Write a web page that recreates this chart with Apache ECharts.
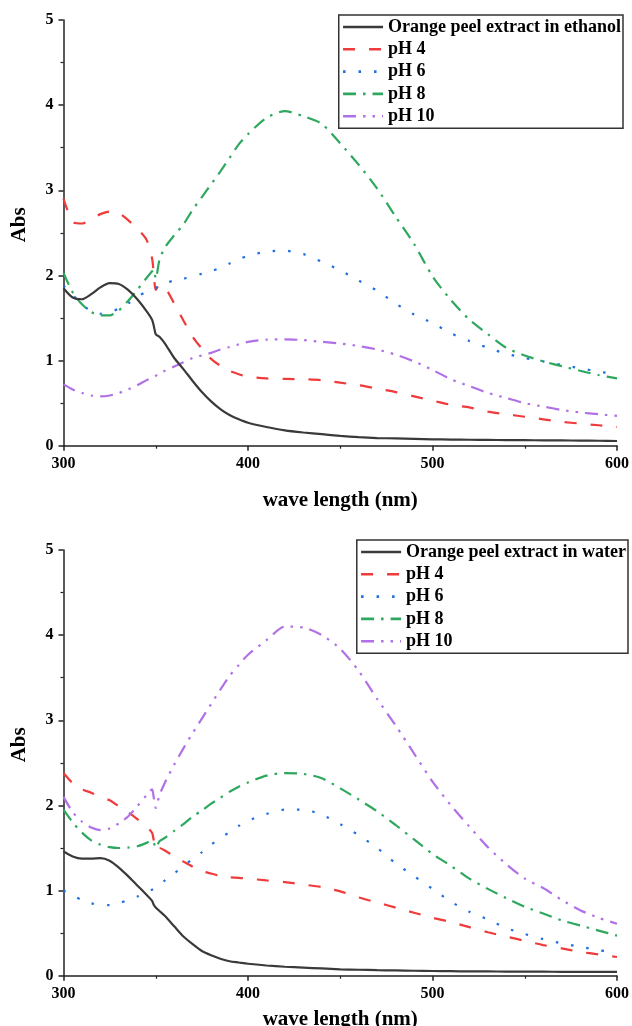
<!DOCTYPE html>
<html>
<head>
<meta charset="utf-8">
<script src="https://cdn.jsdelivr.net/npm/echarts@6/dist/echarts.min.js"></script>
<style>
html,body{margin:0;padding:0;background:#fff;}
#chart{width:632px;height:1026px;}
</style>
</head>
<body>
<div id="chart"></div>
<script>
// wavelengths (nm)
const wl = [300,305,310,315,320,325,330,335,340,345,348,349,350,352,355,360,365,370,375,380,385,390,395,400,410,420,430,440,450,460,470,480,490,500,510,520,530,540,550,560,570,580,590,600];

// Top panel: ethanol
const ethBlack = [1.85,1.74,1.72,1.78,1.86,1.91,1.90,1.83,1.72,1.58,1.48,1.40,1.31,1.28,1.20,1.03,0.90,0.76,0.63,0.52,0.43,0.36,0.31,0.27,0.22,0.18,0.155,0.135,0.115,0.10,0.09,0.085,0.08,0.075,0.072,0.07,0.068,0.066,0.065,0.063,0.062,0.06,0.058,0.055];
const ethPH4 = [2.90,2.63,2.61,2.66,2.72,2.75,2.73,2.65,2.55,2.42,2.20,2.00,1.83,1.89,1.86,1.67,1.47,1.28,1.14,1.02,0.94,0.88,0.84,0.81,0.79,0.785,0.78,0.77,0.74,0.71,0.67,0.63,0.58,0.53,0.48,0.45,0.40,0.37,0.34,0.31,0.28,0.26,0.24,0.22];
const ethPH6 = [1.88,1.77,1.66,1.58,1.55,1.57,1.61,1.67,1.75,1.81,1.83,1.84,1.85,1.88,1.91,1.94,1.96,1.99,2.02,2.05,2.09,2.14,2.19,2.23,2.28,2.29,2.25,2.16,2.06,1.94,1.82,1.67,1.54,1.44,1.32,1.23,1.15,1.08,1.03,0.99,0.95,0.91,0.87,0.84];
const ethPH8 = [2.03,1.80,1.66,1.57,1.53,1.53,1.59,1.70,1.83,1.97,2.05,2.07,1.96,2.18,2.33,2.47,2.60,2.77,2.92,3.07,3.22,3.38,3.54,3.66,3.85,3.93,3.87,3.78,3.55,3.30,3.02,2.69,2.37,1.99,1.71,1.48,1.31,1.15,1.06,0.99,0.935,0.88,0.83,0.79];
const ethPH10 = [0.72,0.66,0.62,0.59,0.58,0.59,0.62,0.66,0.71,0.77,0.80,0.81,0.82,0.85,0.88,0.93,0.98,1.03,1.06,1.09,1.13,1.16,1.19,1.22,1.245,1.25,1.24,1.22,1.20,1.17,1.13,1.07,0.99,0.89,0.78,0.70,0.62,0.56,0.50,0.46,0.42,0.39,0.37,0.35];

// Bottom panel: water
const watBlack = [1.46,1.40,1.375,1.375,1.38,1.35,1.27,1.17,1.06,0.95,0.88,0.83,0.80,0.76,0.70,0.58,0.46,0.37,0.29,0.24,0.20,0.17,0.155,0.14,0.12,0.105,0.095,0.085,0.075,0.07,0.065,0.062,0.058,0.055,0.053,0.051,0.05,0.049,0.048,0.047,0.046,0.046,0.045,0.045];
const watPH4 = [2.38,2.26,2.19,2.15,2.10,2.06,1.99,1.92,1.84,1.75,1.68,1.58,1.48,1.50,1.47,1.40,1.34,1.28,1.23,1.20,1.17,1.155,1.15,1.14,1.12,1.10,1.07,1.04,0.99,0.92,0.86,0.80,0.74,0.68,0.63,0.57,0.51,0.46,0.41,0.36,0.32,0.28,0.25,0.22];
const watPH6 = [1.00,0.94,0.89,0.85,0.83,0.83,0.85,0.89,0.93,0.98,1.01,1.02,1.04,1.07,1.12,1.20,1.29,1.37,1.45,1.54,1.61,1.69,1.76,1.82,1.90,1.95,1.95,1.89,1.78,1.65,1.50,1.32,1.17,1.02,0.87,0.75,0.66,0.56,0.49,0.43,0.38,0.34,0.30,0.27];
const watPH8 = [1.95,1.80,1.68,1.59,1.54,1.51,1.50,1.505,1.52,1.56,1.59,1.56,1.50,1.58,1.62,1.70,1.78,1.87,1.94,2.02,2.09,2.16,2.22,2.27,2.35,2.38,2.37,2.32,2.20,2.07,1.93,1.77,1.60,1.43,1.29,1.14,1.02,0.91,0.81,0.73,0.65,0.59,0.53,0.47];
const watPH10 = [2.10,1.92,1.81,1.74,1.71,1.73,1.79,1.87,1.99,2.12,2.19,2.08,1.97,2.12,2.27,2.48,2.67,2.85,3.02,3.19,3.36,3.52,3.65,3.77,3.94,4.10,4.09,4.00,3.84,3.58,3.25,2.94,2.61,2.28,2.00,1.75,1.51,1.31,1.14,1.03,0.89,0.77,0.68,0.61];

const xTicks = [300, 400, 500, 600];
const yTicks = [0, 1, 2, 3, 4, 5];

const nameEth = 'Orange peel extract in ethanol';
const nameWat = 'Orange peel extract in water';
const names = ['pH 4', 'pH 6', 'pH 8', 'pH 10'];

const FONT = "'Liberation Serif', 'Times New Roman', serif";
const styles = [
  {color: '#3a3a3a', type: 'solid'},
  {color: '#ef3b3b', type: [12, 14]},
  {color: '#1f6fe0', type: [2.5, 13]},
  {color: '#2ea85e', type: [13, 7, 2.5, 7]},
  {color: '#b070e6', type: [13, 7, 2.5, 7, 2.5, 7]}
];

function pairs(arr) { return wl.map((w, i) => [w, arr[i]]); }

function mkSeries(name, arr, idx, gi) {
  const s = styles[idx];
  return {
    type: 'line', name: name, xAxisIndex: gi, yAxisIndex: gi,
    data: pairs(arr), symbol: 'none', showSymbol: false, smooth: 0.25,
    lineStyle: {color: s.color, width: 2.2, type: s.type},
    itemStyle: {color: s.color},
    z: idx === 0 ? 3 : 2
  };
}

const axisLine = {show: true, lineStyle: {color: '#222', width: 1.5}};
const label = {color: '#000', fontFamily: FONT, fontWeight: 'bold', fontSize: 16};
const nameStyle = {color: '#000', fontFamily: FONT, fontWeight: 'bold', fontSize: 21};

function xAx(gi, gap) {
  return {
    type: 'value', gridIndex: gi, min: xTicks[0], max: xTicks[xTicks.length - 1], interval: 100,
    name: 'wave length (nm)', nameLocation: 'middle', nameGap: gap, nameTextStyle: nameStyle,
    axisLine: axisLine, axisTick: {show: true, length: 5, lineStyle: {color: '#222', width: 1.5}},
    minorTick: {show: true, splitNumber: 2, length: 3, lineStyle: {color: '#222', width: 1.2}},
    axisLabel: Object.assign({margin: 10}, label), splitLine: {show: false}
  };
}
function yAx(gi, shift) {
  return {
    type: 'value', gridIndex: gi, min: yTicks[0], max: yTicks[yTicks.length - 1], interval: 1,
    name: 'Abs', nameLocation: 'middle', nameGap: 33,
    nameTextStyle: Object.assign({padding: [0, 0, 0, shift]}, nameStyle),
    axisLine: axisLine, axisTick: {show: true, length: 5, lineStyle: {color: '#222', width: 1.5}},
    minorTick: {show: true, splitNumber: 2, length: 3, lineStyle: {color: '#222', width: 1.2}},
    axisLabel: Object.assign({margin: 10}, label), splitLine: {show: false}
  };
}

function legend(data, right, top) {
  return {
    data: data, orient: 'vertical', right: right, top: top,
    itemWidth: 40, itemHeight: 14, itemGap: 4.3,
    padding: [3, 2, 3, 3],
    borderColor: '#333', borderWidth: 1.5,
    backgroundColor: '#fff',
    selectedMode: false,
    lineStyle: {width: 2.6},
    itemStyle: {color: 'rgba(0,0,0,0)', borderColor: 'rgba(0,0,0,0)', borderWidth: 0},
    textStyle: {color: '#000', fontFamily: FONT, fontWeight: 'bold', fontSize: 18, lineHeight: 18, padding: [0, 0, 0, 0]}
  };
}

const chart = echarts.init(document.getElementById('chart'), null, {renderer: 'canvas'});
chart.setOption({
  animation: false,
  backgroundColor: '#fff',
  grid: [
    {left: 63.5, right: 15, top: 20, height: 425.7, outerBoundsMode: 'none', containLabel: false},
    {left: 63.5, right: 15, top: 550, height: 425.7, outerBoundsMode: 'none', containLabel: false}
  ],
  xAxis: [xAx(0, 44), xAx(1, 33)],
  yAxis: [yAx(0, 16), yAx(1, 36)],
  legend: [
    legend([nameEth].concat(names), 9, 15),
    legend([nameWat].concat(names), 4, 540)
  ],
  series: [
    mkSeries(nameEth, ethBlack, 0, 0),
    mkSeries(names[0], ethPH4, 1, 0),
    mkSeries(names[1], ethPH6, 2, 0),
    mkSeries(names[2], ethPH8, 3, 0),
    mkSeries(names[3], ethPH10, 4, 0),
    mkSeries(nameWat, watBlack, 0, 1),
    mkSeries(names[0], watPH4, 1, 1),
    mkSeries(names[1], watPH6, 2, 1),
    mkSeries(names[2], watPH8, 3, 1),
    mkSeries(names[3], watPH10, 4, 1)
  ]
});
</script>
</body>
</html>
